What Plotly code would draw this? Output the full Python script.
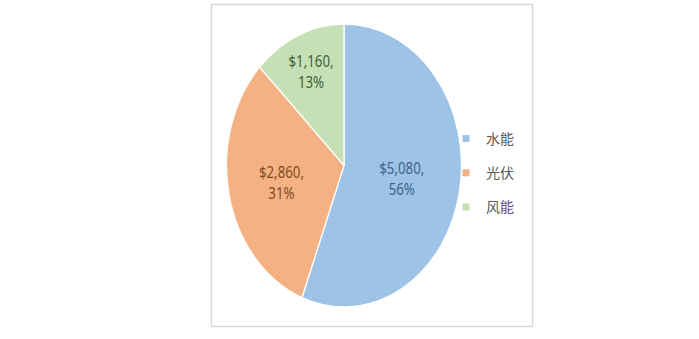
import plotly.graph_objects as go

categories = ["水能", "光伏", "风能"]
values = [5080, 2860, 1160]
colors = ["#9DC3E6", "#F4B183", "#C5E0B4"]
label_colors = ["#3F6489", "#7E4B22", "#44613A"]

W, H = 699, 339
cx, cy, r = 344, 165.5, 141.5
sx = 235 / 283  # the reference pie is drawn horizontally compressed

fig = go.Figure()
fig.add_trace(go.Pie(
    labels=categories,
    values=values,
    sort=False,
    direction="clockwise",
    rotation=0,
    marker=dict(colors=colors, line=dict(color="white", width=1.5)),
    texttemplate="$%{value:,},<br>%{percent:.0%}",
    textposition="inside",
    insidetextorientation="horizontal",
    textfont=dict(family="Noto Sans", size=16, color=label_colors),
    showlegend=False,
    hoverinfo="label+value+percent",
    domain=dict(x=[(cx - r) / W, (cx + r) / W],
                y=[(H - cy - r) / H, (H - cy + r) / H]),
))

for name, col in zip(categories, colors):
    fig.add_trace(go.Scatter(
        x=[None], y=[None], mode="markers", name=name,
        marker=dict(symbol="square", size=7, color=col),
        legendgroup=name, showlegend=True,
    ))

fig.update_layout(
    width=W, height=H,
    margin=dict(l=0, r=0, t=0, b=0),
    paper_bgcolor="white", plot_bgcolor="white",
    xaxis=dict(visible=False), yaxis=dict(visible=False),
    legend=dict(
        x=446 / W, y=(H - 123) / H, xanchor="left", yanchor="top",
        font=dict(family="Noto Sans CJK SC", size=14, color="#595959"),
        tracegroupgap=13, itemwidth=30, bgcolor="rgba(0,0,0,0)",
    ),
    shapes=[dict(type="rect", xref="paper", yref="paper",
                 x0=211.5 / W, x1=532.5 / W, y0=(H - 326.5) / H, y1=(H - 4.5) / H,
                 line=dict(color="#D9D9D9", width=1.5), fillcolor="rgba(0,0,0,0)",
                 layer="below")],
)

post = (
    "var gd=document.getElementById('{plot_id}');"
    "function sq(){var g=gd.querySelectorAll('.pielayer');"
    "g.forEach(function(e){e.setAttribute('transform','translate(%g,0) scale(%g,1) translate(%g,0)');});}"
    "sq();gd.on('plotly_afterplot',sq);"
) % (cx, sx, -cx)

fig.write_html("out.html", post_script=post)
